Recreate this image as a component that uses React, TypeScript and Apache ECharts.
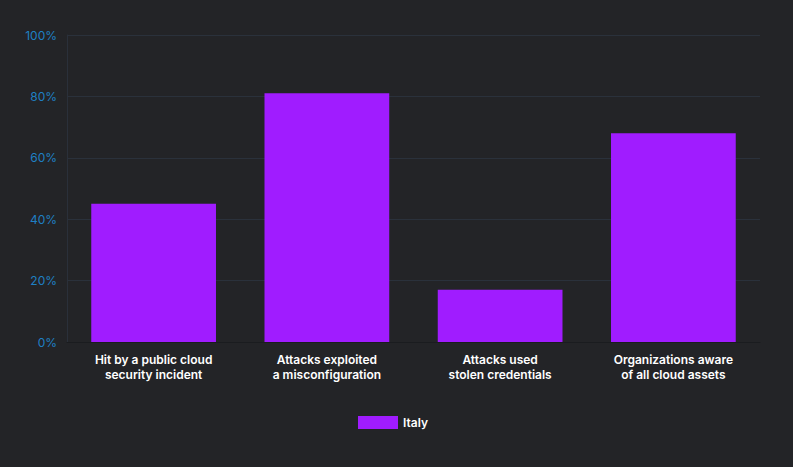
import React, { useEffect, useRef } from "react";
import * as echarts from "echarts";

const categories = [
  "Hit by a public cloud\nsecurity incident",
  "Attacks exploited\na misconfiguration",
  "Attacks used\nstolen credentials",
  "Organizations aware\nof all cloud assets",
];
const italyValues = [45, 81, 17, 68];
const seriesName = "Italy";

export default function App() {
  const ref = useRef<HTMLDivElement>(null);
  useEffect(() => {
    if (!ref.current) return;
    const chart = echarts.init(ref.current, undefined, { renderer: "svg" });
    chart.setOption({
      animation: false,
      backgroundColor: "#232427",
      grid: { left: 67, right: 33, top: 35, bottom: 125 },
      legend: {
        data: [seriesName],
        top: 411,
        left: 353,
        itemWidth: 40,
        itemHeight: 13,
        icon: "rect",
        textStyle: { color: "#ffffff", fontFamily: "Inter", fontSize: 12, fontWeight: 600 },
      },
      xAxis: {
        type: "category",
        data: categories,
        axisLine: { show: true, lineStyle: { color: "#1a1c1f", width: 1 } },
        axisTick: { show: false },
        axisLabel: {
          color: "#ffffff",
          fontFamily: "Inter",
          fontSize: 12,
          fontWeight: 600,
          lineHeight: 15,
          margin: 10,
          interval: 0,
        },
      },
      yAxis: {
        type: "value",
        min: 0,
        max: 100,
        interval: 20,
        axisLine: { show: true, lineStyle: { color: "#2a303a" } },
        axisTick: { show: false },
        splitLine: { lineStyle: { color: "#2a313b", width: 1 } },
        axisLabel: {
          color: "#1f80c4",
          fontFamily: "Inter",
          fontSize: 12,
          margin: 10,
          formatter: "{value}%",
        },
      },
      series: [
        {
          name: seriesName,
          type: "bar",
          data: italyValues,
          barCategoryGap: "28%",
          itemStyle: { color: "#a01cff" },
        },
      ],
    });
    return () => chart.dispose();
  }, []);
  return <div ref={ref} style={{ width: 793, height: 467, position: "absolute", left: 0, top: 0 }} />;
}
